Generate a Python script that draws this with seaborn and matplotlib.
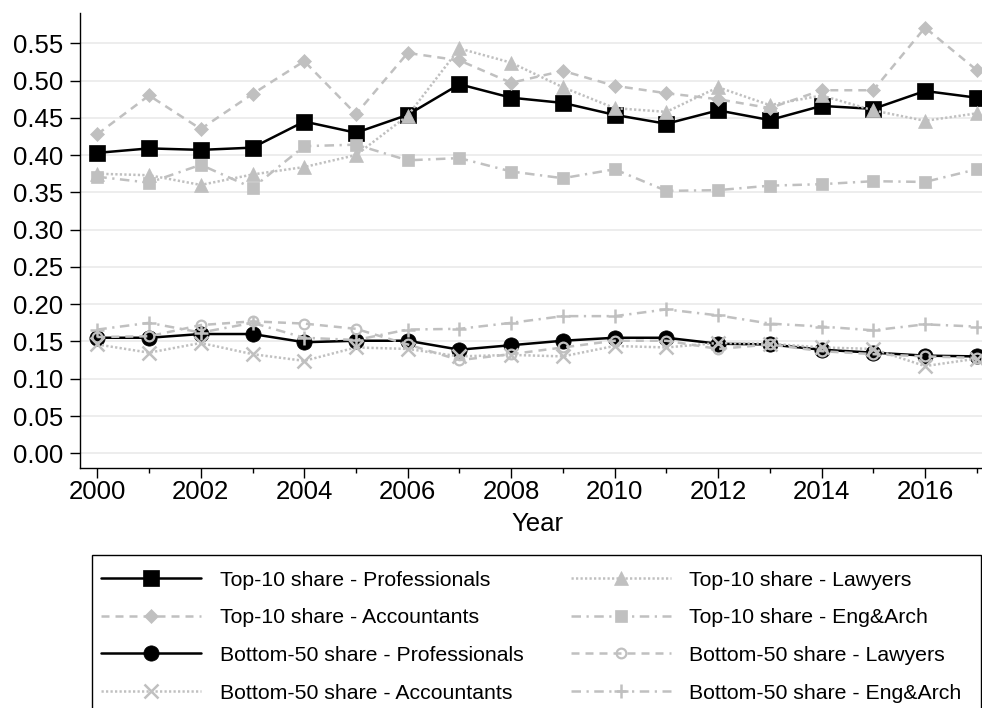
import numpy as np
import pandas as pd
import matplotlib
matplotlib.use("Agg")
import matplotlib.pyplot as plt
import seaborn as sns
from matplotlib.patches import Rectangle
from matplotlib.ticker import MultipleLocator, FormatStrFormatter

# ---- data -------------------------------------------------------------
years = list(range(2000, 2018))

top10_professionals = [0.403, 0.409, 0.407, 0.410, 0.445, 0.430, 0.454, 0.495, 0.477,
                       0.470, 0.454, 0.442, 0.460, 0.447, 0.466, 0.462, 0.486, 0.477]
top10_lawyers = [0.375, 0.373, 0.360, 0.374, 0.384, 0.400, 0.453, 0.543, 0.524,
                 0.491, 0.463, 0.458, 0.491, 0.467, 0.480, 0.460, 0.446, 0.456]
top10_accountants = [0.428, 0.480, 0.435, 0.482, 0.526, 0.455, 0.537, 0.527, 0.497,
                     0.513, 0.493, 0.483, 0.475, 0.463, 0.487, 0.487, 0.571, 0.514]
top10_engarch = [0.371, 0.363, 0.387, 0.356, 0.412, 0.414, 0.393, 0.396, 0.378,
                 0.369, 0.381, 0.352, 0.353, 0.359, 0.361, 0.365, 0.364, 0.381]

bottom50_professionals = [0.155, 0.155, 0.160, 0.160, 0.149, 0.151, 0.151, 0.139, 0.145,
                          0.151, 0.155, 0.155, 0.147, 0.146, 0.139, 0.135, 0.131, 0.130]
bottom50_lawyers = [0.156, 0.157, 0.172, 0.177, 0.174, 0.167, 0.146, 0.125, 0.133,
                    0.142, 0.151, 0.151, 0.140, 0.146, 0.137, 0.133, 0.130, 0.128]
bottom50_accountants = [0.146, 0.135, 0.148, 0.133, 0.124, 0.142, 0.140, 0.130, 0.132,
                        0.130, 0.144, 0.142, 0.148, 0.147, 0.142, 0.140, 0.117, 0.127]
bottom50_engarch = [0.166, 0.175, 0.162, 0.175, 0.155, 0.152, 0.166, 0.167, 0.175,
                    0.184, 0.184, 0.193, 0.185, 0.174, 0.170, 0.165, 0.173, 0.170]

y_ticks = [0.00, 0.05, 0.10, 0.15, 0.20, 0.25, 0.30, 0.35, 0.40, 0.45, 0.50, 0.55]
x_ticks = list(range(2000, 2017, 2))

# ---- style ------------------------------------------------------------
sns.set_theme(style="white")
plt.rcParams["font.family"] = ["Liberation Sans", "DejaVu Sans"]
for key in ("text.color", "axes.labelcolor", "xtick.color", "ytick.color"):
    plt.rcParams[key] = "black"

BLACK = "#000000"
GRAY = "#c0c0c0"
LW = 1.8
DASH = (0, (3.2, 2.4))
DOT = (0, (0.9, 0.9))
DASHDOT = (0, (3.8, 2.2, 0.9, 2.2))

W, H = 982, 708
fig = plt.figure(figsize=(W / 100, H / 100), dpi=100)
fig.patch.set_facecolor("white")
ax = fig.add_axes([80.3 / W, 1 - 468.3 / H, (W - 80.3) / W, (468.3 - 13.3) / H])

series = [
    # values, label, color, marker, size, linestyle, face, edge, edge width
    (top10_professionals, "Top-10 share - Professionals", BLACK, "s", 11.5, "-", BLACK, BLACK, 0.5),
    (top10_lawyers, "Top-10 share - Lawyers", GRAY, "^", 9.5, DOT, GRAY, GRAY, 0.5),
    (top10_accountants, "Top-10 share - Accountants", GRAY, "D", 7.0, DASH, GRAY, GRAY, 0.5),
    (top10_engarch, "Top-10 share - Eng&Arch", GRAY, "s", 8.0, DASHDOT, GRAY, GRAY, 0.5),
    (bottom50_professionals, "Bottom-50 share - Professionals", BLACK, "o", 11, "-", BLACK, BLACK, 0.5),
    (bottom50_lawyers, "Bottom-50 share - Lawyers", GRAY, "o", 7.0, DASH, "none", GRAY, 1.6),
    (bottom50_accountants, "Bottom-50 share - Accountants", GRAY, "x", 9.5, DOT, GRAY, GRAY, 1.8),
    (bottom50_engarch, "Bottom-50 share - Eng&Arch", GRAY, "+", 10.5, DASHDOT, GRAY, GRAY, 1.8),
]

lines = {}
for vals, label, color, marker, ms, ls, mfc, mec, mew in series:
    df = pd.DataFrame({"Year": years, "share": vals})
    sns.lineplot(data=df, x="Year", y="share", ax=ax, color=color, marker=marker,
                 markersize=ms, linestyle=ls, linewidth=LW, markerfacecolor=mfc,
                 markeredgecolor=mec, markeredgewidth=mew, label=label, legend=False)
    lines[label] = ax.lines[-1]

# ---- axes -------------------------------------------------------------
ax.set_xlim(1999.671, 2017.102)
ax.set_ylim(-0.0201, 0.5902)
ax.set_xticks(x_ticks)
ax.xaxis.set_minor_locator(MultipleLocator(1))
ax.set_yticks(y_ticks)
ax.yaxis.set_major_formatter(FormatStrFormatter("%.2f"))

ax.tick_params(axis="x", which="major", bottom=True, length=7.2, width=1.0, pad=1.5,
               labelsize=18.5, colors=BLACK, direction="out")
ax.tick_params(axis="x", which="minor", bottom=True, length=3.6, width=1.0,
               colors=BLACK, direction="out")
ax.tick_params(axis="y", which="major", left=True, length=7.2, width=1.0, pad=5,
               labelsize=18.5, colors=BLACK, direction="out")

ax.yaxis.grid(True, color="#e8e8e8", linewidth=1.1)
ax.xaxis.grid(False)
ax.set_axisbelow(True)
for side in ("top", "right"):
    ax.spines[side].set_visible(False)
for side in ("left", "bottom"):
    ax.spines[side].set_color(BLACK)
    ax.spines[side].set_linewidth(1.0)

ax.set_ylabel("")
ax.set_xlabel("Year", fontsize=18.5, color=BLACK)
ax.xaxis.set_label_coords(0.507, -(524 - 468.3) / 455.0)
ax.xaxis.label.set_va("center")

# ---- legend -----------------------------------------------------------
order = [
    "Top-10 share - Professionals", "Top-10 share - Accountants",
    "Bottom-50 share - Professionals", "Bottom-50 share - Accountants",
    "Top-10 share - Lawyers", "Top-10 share - Eng&Arch",
    "Bottom-50 share - Lawyers", "Bottom-50 share - Eng&Arch",
]
handles = [lines[k] for k in order]
fs = 15.3
em = fs * 100 / 72.0


def make_legend(colsp):
    return fig.legend(handles, order, ncol=2, loc="upper left",
                      bbox_to_anchor=(101.4 / W, 1 - 570.5 / H),
                      bbox_transform=fig.transFigure, frameon=False,
                      fontsize=fs, handlelength=100 / em, handletextpad=18.7 / em,
                      labelspacing=0.88, borderpad=0, borderaxespad=0,
                      columnspacing=colsp, numpoints=1, labelcolor=BLACK)


leg = make_legend(2.0)
fig.canvas.draw()
renderer = fig.canvas.get_renderer()
col1_w = max(t.get_window_extent(renderer).width for t in leg.get_texts()[:4])
col1_end = 101.4 + 100 + 18.7 + col1_w
leg.remove()
leg = make_legend((570.6 - col1_end) / em)

fig.add_artist(Rectangle((91.7 / W, 1 - 730 / H), (980.7 - 91.7) / W, (730 - 555) / H,
                         transform=fig.transFigure, facecolor="none",
                         edgecolor=BLACK, linewidth=1.0))

fig.savefig("out.png", dpi=100, facecolor="white")
